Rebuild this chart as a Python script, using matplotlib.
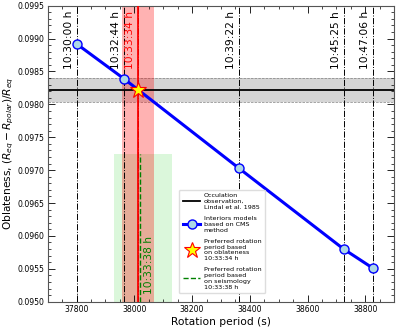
import numpy as np
import matplotlib
matplotlib.use('Agg')
import matplotlib.pyplot as plt
from matplotlib.ticker import MultipleLocator

# CMS interior models: rotation period (s) vs oblateness
periods = [37800, 37964, 38362, 38725, 38826]
oblateness = [0.09892, 0.09839, 0.09703, 0.09580, 0.09551]
period_labels = ['10:30:00 h', '10:32:44 h', '10:39:22 h', '10:45:25 h', '10:47:06 h']

# occultation (Lindal et al. 1985)
occ_value = 0.09822
occ_low, occ_high = 0.09804, 0.09840

# preferred rotation periods
obl_period = 38014
obl_band = (37957, 38067)
obl_label = '10:33:34 h'
seis_period = 38018
seis_band = (37930, 38130)
seis_label = '10:33:38 h'

fig = plt.figure(figsize=(3.99, 3.29), dpi=100)
ax = fig.add_axes([0.1195, 0.083, 0.8685, 0.8997])

ax.axhspan(occ_low, occ_high, color='lightgray', alpha=0.95, lw=0, zorder=1)
ax.axhline(occ_low, color='gray', ls='--', lw=0.5, zorder=1)
ax.axhline(occ_high, color='gray', ls='--', lw=0.5, zorder=1)
occ_line = ax.axhline(occ_value, color='black', lw=1.3, zorder=2)

ax.axvspan(seis_band[0], seis_band[1], ymin=0, ymax=0.5, color='#ccf5cc', alpha=0.7, lw=0, zorder=1)
ax.axvspan(obl_band[0], obl_band[1], color='red', alpha=0.3, lw=0, zorder=1)

for p in periods + [obl_period]:
    ax.axvline(p, color='black', ls='-.', lw=0.7, zorder=2)

ax.axvline(obl_period, color='red', lw=1.3, zorder=3)
seis_line, = ax.plot([seis_period, seis_period], [0.0950, 0.09725], color='green',
                     ls='--', lw=1.0, zorder=3)

model_line, = ax.plot(periods, oblateness, color='blue', lw=2.2, marker='o',
                      markersize=6.5, markerfacecolor='lightblue',
                      markeredgecolor='blue', markeredgewidth=1.0, zorder=4)
star, = ax.plot([obl_period], [occ_value], ls='none', marker='*', markersize=12,
                markerfacecolor='yellow', markeredgecolor='red', markeredgewidth=0.8, zorder=5)

for p, lab in zip(periods, period_labels):
    ax.text(p - 10, 0.09942, lab, rotation=90, ha='right', va='top', fontsize=7.7, zorder=6)
ax.text(obl_period - 10, 0.09942, obl_label, rotation=90, ha='right', va='top',
        fontsize=7.7, color='red', zorder=6)
ax.text(seis_period + 14, 0.09512, seis_label, rotation=90, ha='left', va='bottom',
        fontsize=7.7, color='green', zorder=6)

ax.set_xlim(37700, 38900)
ax.set_ylim(0.0950, 0.0995)
ax.xaxis.set_major_locator(MultipleLocator(200))
ax.xaxis.set_minor_locator(MultipleLocator(50))
ax.yaxis.set_major_locator(MultipleLocator(0.0005))
ax.yaxis.set_minor_locator(MultipleLocator(0.0001))
ax.yaxis.set_major_formatter(matplotlib.ticker.FormatStrFormatter('%.4f'))
ax.tick_params(which='both', direction='in', top=True, right=True, labelsize=5.6, pad=2.5)
ax.tick_params(which='major', length=5, width=0.6)
ax.tick_params(which='minor', length=2.5, width=0.5)
for s in ax.spines.values():
    s.set_color('#555555')
    s.set_linewidth(0.8)

ax.set_xlabel('Rotation period (s)', fontsize=7.7, labelpad=2)
ax.set_ylabel(r'Oblateness, $(R_{eq}-R_{polar})/R_{eq}$', fontsize=7.7, labelpad=1)

leg = ax.legend([occ_line, model_line, star, seis_line],
                ['Occulation\nobservation,\nLindal et al. 1985',
                 'Interiors models\nbased on CMS\nmethod',
                 'Preferred rotation\nperiod based\non oblateness\n10:33:34 h',
                 'Preferred rotation\nperiod based\non seismology\n10:33:38 h'],
                loc='lower left', bbox_to_anchor=(0.369, 0.017), fontsize=4.6,
                handlelength=2.8, labelspacing=0.95, borderpad=0.6, handletextpad=0.5,
                framealpha=1.0, fancybox=True)
leg.get_frame().set_edgecolor('#dddddd')
leg.set_zorder(10)

fig.savefig('out.png', dpi=100)
